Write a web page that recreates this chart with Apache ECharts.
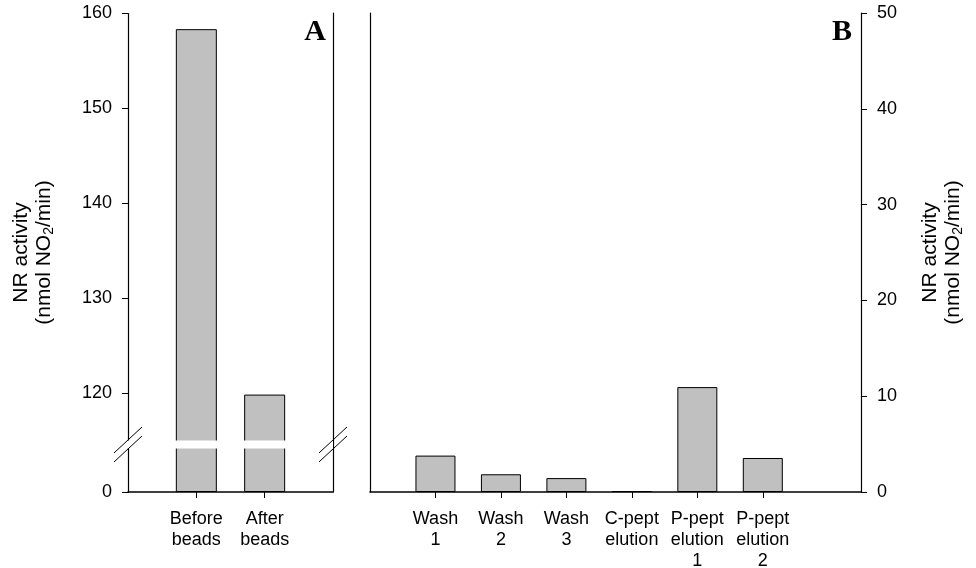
<!DOCTYPE html>
<html>
<head>
<meta charset="utf-8">
<script src="https://cdn.jsdelivr.net/npm/echarts@6/dist/echarts.min.js"></script>
<style>
  html, body { margin: 0; padding: 0; background: #fff; }
  #chart { width: 976px; height: 568px; }
</style>
</head>
<body>
<div id="chart"></div>
<script>
// Panel A: activity in the extract before and after incubation with beads
const beadCategories = ['Before\nbeads', 'After\nbeads'];
const beadValues = [158.3, 119.85];
const beadTicks = [0, 120, 130, 140, 150, 160];

// Panel B: activity in the wash and elution fractions
const fractionCategories = ['Wash\n1', 'Wash\n2', 'Wash\n3', 'C-pept\nelution', 'P-pept\nelution\n1', 'P-pept\nelution\n2'];
const fractionValues = [3.8, 1.85, 1.45, 0.1, 10.95, 3.55];
const fractionTicks = [0, 10, 20, 30, 40, 50];

// Broken range on the panel A value axis
const axisBreak = { start: 4.6, end: 115, gap: 0.8 };

const FONT = '"Liberation Sans", Arial, sans-serif';
const BAR_COLOR = '#c0c0c0';

const axisName = '{n|NR activity}\n{n|(nmol NO}{sub|2}{n|/min)}';
const nameStyle = {
  rich: {
    n: { fontFamily: FONT, fontSize: 21, lineHeight: 23, color: '#000' },
    sub: { fontFamily: FONT, fontSize: 14, lineHeight: 23, color: '#000', verticalAlign: 'bottom' }
  }
};

const lineOnly = {
  axisLine: { show: true, onZero: false, lineStyle: { color: '#000', width: 1.2 } },
  axisTick: { show: false },
  axisLabel: { show: false },
  splitLine: { show: false }
};

const chart = echarts.init(document.getElementById('chart'), null, { renderer: 'canvas' });

const option = {
  animation: false,
  backgroundColor: '#fff',
  grid: [
    { left: 128, top: 13, width: 205, height: 479, containLabel: false, outerBoundsMode: 'none' },
    { left: 370, top: 13, width: 491, height: 479, containLabel: false, outerBoundsMode: 'none' }
  ],
  xAxis: [
    {
      gridIndex: 0, type: 'value', min: 0, max: 3,
      splitLine: { show: false },
      axisLine: { onZero: false, lineStyle: { color: '#000', width: 1.6 } },
      axisTick: { show: true, customValues: [1, 2], length: 6, lineStyle: { color: '#000' } },
      axisLabel: {
        customValues: [1, 2],
        formatter: v => beadCategories[v - 1] || '',
        fontFamily: FONT, fontSize: 18, lineHeight: 21, color: '#000', margin: 17
      }
    },
    {
      gridIndex: 1, type: 'value', min: 0, max: 7.5,
      splitLine: { show: false },
      axisLine: { onZero: false, lineStyle: { color: '#000', width: 1.6 } },
      axisTick: { show: true, customValues: [1, 2, 3, 4, 5, 6], length: 6, lineStyle: { color: '#000' } },
      axisLabel: {
        customValues: [1, 2, 3, 4, 5, 6],
        formatter: v => fractionCategories[v - 1] || '',
        fontFamily: FONT, fontSize: 18, lineHeight: 21, color: '#000', margin: 17
      }
    }
  ],
  yAxis: [
    {
      gridIndex: 0, type: 'value', position: 'left', min: 0, max: 160,
      breaks: [axisBreak],
      breakArea: {
        show: true,
        zigzagAmplitude: 0,
        itemStyle: { color: '#fff', borderWidth: 0, borderColor: '#fff', opacity: 1 }
      },
      splitLine: { show: false },
      axisLine: { show: true, onZero: false, lineStyle: { color: '#000', width: 1.2 } },
      axisTick: { show: true, customValues: beadTicks, length: 6, lineStyle: { color: '#000' } },
      axisLabel: {
        customValues: beadTicks,
        fontFamily: FONT, fontSize: 18, color: '#000', margin: 16
      },
      name: axisName, nameLocation: 'middle', nameGap: 72, nameRotate: 90,
      nameTextStyle: nameStyle
    },
    Object.assign({ gridIndex: 0, type: 'value', position: 'right', min: 0, max: 1 }, lineOnly),
    {
      gridIndex: 1, type: 'value', position: 'right', min: 0, max: 50, interval: 10,
      splitLine: { show: false },
      axisLine: { show: true, onZero: false, lineStyle: { color: '#000', width: 1.2 } },
      axisTick: { show: true, customValues: fractionTicks, length: 6, lineStyle: { color: '#000' } },
      axisLabel: {
        customValues: fractionTicks,
        fontFamily: FONT, fontSize: 18, color: '#000', margin: 16
      },
      name: axisName, nameLocation: 'middle', nameGap: 58, nameRotate: 90,
      nameTextStyle: nameStyle
    },
    Object.assign({ gridIndex: 1, type: 'value', position: 'left', min: 0, max: 1 }, lineOnly)
  ],
  series: [
    {
      type: 'bar', xAxisIndex: 0, yAxisIndex: 0, barWidth: 41,
      data: beadValues.map((v, i) => [i + 1, v]),
      itemStyle: { color: BAR_COLOR, borderColor: '#000', borderWidth: 1 }
    },
    {
      type: 'bar', xAxisIndex: 1, yAxisIndex: 2, barWidth: 40,
      data: fractionValues.map((v, i) => [i + 1, v]),
      itemStyle: { color: BAR_COLOR, borderColor: '#000', borderWidth: 1 }
    }
  ]
};

chart.setOption(option);

// Panel letters and break marks on the panel A frame
const yLo = chart.convertToPixel({ yAxisIndex: 0 }, axisBreak.start);
const yHi = chart.convertToPixel({ yAxisIndex: 0 }, axisBreak.end);
const yMid = (yLo + yHi) / 2;
const xLeft = chart.convertToPixel({ xAxisIndex: 0 }, 0);
const xRight = chart.convertToPixel({ xAxisIndex: 0 }, 3);
const xB = chart.convertToPixel({ xAxisIndex: 1 }, 7.5);

function slashes(x) {
  return [-4.5, 4.5].map(off => ({
    type: 'line', z: 100,
    shape: { x1: x - 14, y1: yMid + off + 13, x2: x + 14, y2: yMid + off - 13 },
    style: { stroke: '#000', lineWidth: 1 }
  }));
}

const letterStyle = { fontFamily: '"Liberation Serif", "Times New Roman", serif', fontWeight: 'bold', fontSize: 30, fill: '#000' };

chart.setOption({
  graphic: [
    ...slashes(xLeft),
    ...slashes(xRight),
    { type: 'text', x: xRight - 7, y: 17, style: Object.assign({ text: 'A', align: 'right', verticalAlign: 'top' }, letterStyle) },
    { type: 'text', x: xB - 9, y: 17, style: Object.assign({ text: 'B', align: 'right', verticalAlign: 'top' }, letterStyle) }
  ]
});
</script>
</body>
</html>
